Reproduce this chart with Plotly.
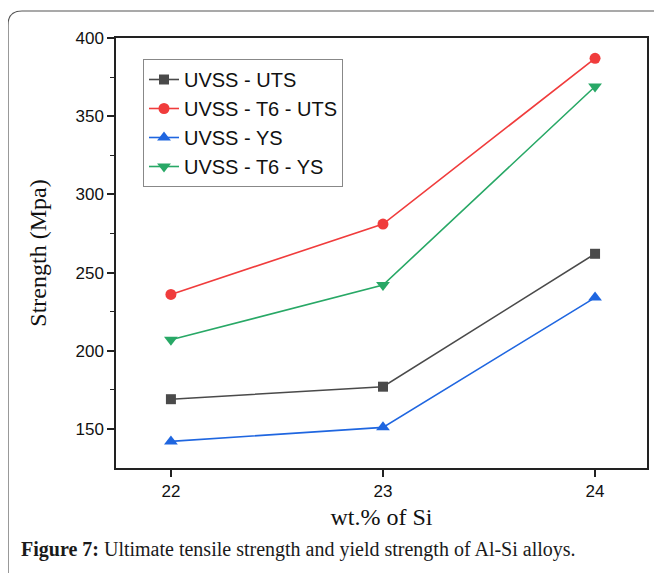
import plotly.graph_objects as go

si = [22, 23, 24]
uts = [169, 177, 262]
t6_uts = [236, 281, 387]
ys = [142, 151, 234]
t6_ys = [207, 242, 369]

# browser adds an 8px body margin; work in reference pixel coords and shift
OFF = 8
W, H = 662 - OFF, 573 - OFF
L, R, T, B = 116 - OFF, 15, 38 - OFF, 105
pw, ph = W - L - R, H - T - B

def px(x):
    return (x - OFF - L) / pw

def py(y):
    return (H - B - (y - OFF)) / ph

fig = go.Figure()
series = [
    ("UVSS - UTS", uts, "#4a4a4a", "square", 10),
    ("UVSS - T6 - UTS", t6_uts, "#f03c3c", "circle", 11),
    ("UVSS - YS", ys, "#1f66e0", "triangle-up", 12),
    ("UVSS - T6 - YS", t6_ys, "#28a866", "triangle-down", 12),
]
for name, vals, col, sym, sz in series:
    fig.add_trace(go.Scatter(
        x=si, y=vals, name=name, mode="lines+markers",
        line=dict(color=col, width=1.6),
        marker=dict(color=col, symbol=sym, size=sz),
    ))

# outer rounded frame
x0, y0, x1, y1, r = 8, 11, 675, 590, 14
path = (f"M {px(x0)},{py(y0 + r)} L {px(x0)},{py(y1 - r)} "
        f"Q {px(x0)},{py(y1)} {px(x0 + r)},{py(y1)} L {px(x1 - r)},{py(y1)} "
        f"L {px(x1)},{py(y1)} L {px(x1)},{py(y0 + r)} "
        f"Q {px(x1)},{py(y0)} {px(x1 - r)},{py(y0)} L {px(x0 + r)},{py(y0)} "
        f"Q {px(x0)},{py(y0)} {px(x0)},{py(y0 + r)} Z")
fig.add_shape(type="path", path=path, xref="paper", yref="paper",
              line=dict(color="#555555", width=1.2), layer="below")

fig.add_annotation(
    x=px(19), y=py(549), xref="paper", yref="paper", xanchor="left", yanchor="middle",
    showarrow=False,
    text="<b>Figure 7:</b> Ultimate tensile strength and yield strength of Al-Si alloys.",
    font=dict(family="Liberation Serif, DejaVu Serif, serif", size=20, color="#1a1a1a"),
)

fig.update_layout(
    width=W, height=H,
    margin=dict(l=L, r=R, t=T, b=B),
    paper_bgcolor="white", plot_bgcolor="white",
    showlegend=True,
    legend=dict(
        x=px(143), y=py(59), xanchor="left", yanchor="top",
        bordercolor="#888888", borderwidth=1, bgcolor="white",
        font=dict(family="Liberation Sans, Arial, sans-serif", size=20, color="#111111"),
        tracegroupgap=0, itemsizing="trace",
    ),
    xaxis=dict(
        range=[21.741, 24.245], tickvals=si, ticktext=["22", "23", "24"],
        ticks="outside", ticklen=7, tickwidth=1.5, tickcolor="#222",
        showline=True, linecolor="#222", linewidth=1.5, mirror=True,
        showgrid=False, zeroline=False,
        tickfont=dict(family="Liberation Sans, Arial, sans-serif", size=17, color="#111"),
        title=dict(text="wt.% of Si", standoff=8,
                   font=dict(family="Liberation Serif, DejaVu Serif, serif", size=24, color="#111")),
    ),
    yaxis=dict(
        range=[125, 400], tickvals=[150, 200, 250, 300, 350, 400],
        ticks="outside", ticklen=7, tickwidth=1.5, tickcolor="#222",
        minor=dict(tickvals=[175, 225, 275, 325, 375], ticks="outside", ticklen=4, tickwidth=1.2, tickcolor="#222"),
        showline=True, linecolor="#222", linewidth=1.5, mirror=True,
        showgrid=False, zeroline=False,
        tickfont=dict(family="Liberation Sans, Arial, sans-serif", size=17, color="#111"),
        title=dict(text="Strength (Mpa)", standoff=22,
                   font=dict(family="Liberation Serif, DejaVu Serif, serif", size=24, color="#111")),
    ),
)

fig.write_html("out.html")
